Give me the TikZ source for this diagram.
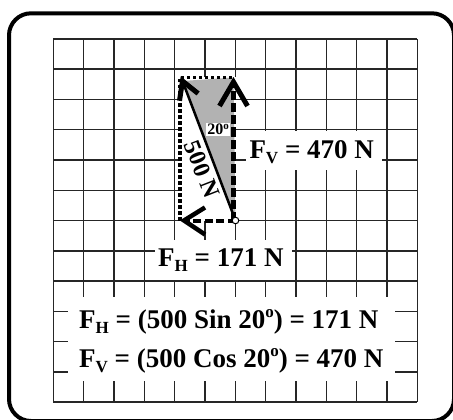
\documentclass[tikz,border=0pt]{standalone}
\usepackage{fontspec}
\setmainfont{Liberation Serif}
\newcommand{\subs}[1]{\raisebox{-5pt}{\fontsize{17}{17}\selectfont #1}}
\newcommand{\supo}{\raisebox{10.5pt}{\fontsize{17}{17}\selectfont o}}
\begin{document}
\begin{tikzpicture}[x=1pt,y=-1pt,
  gridline/.style={line width=1.5pt,black!85},
  lbl/.style={inner sep=0pt,anchor=base west,font=\fontsize{27}{30}\selectfont\bfseries},
  dotline/.style={line width=3.2pt,dash pattern=on 3.2pt off 2.8pt},
  dashline/.style={line width=4.5pt,dash pattern=on 9pt off 3pt},
  chev/.style={line width=5pt,miter limit=10},
  frame/.style={line width=4pt,rounded corners=22pt}]
\useasboundingbox (0,0) rectangle (453,420);
% outer frame
\draw[frame] (9,13.3) rectangle (454,421);
% grid
\foreach \i in {0,...,12} {\draw[gridline] ({53.3+30.33*\i},39) -- ({53.3+30.33*\i},402);}
\foreach \j in {0,...,12} {\draw[gridline] (53.3,{39+30.25*\j}) -- (417.3,{39+30.25*\j});}
% white masks behind labels
\fill[white] (246,131.5) rectangle (381.7,169.5);
\fill[white] (155,240) rectangle (291.7,279.8);
\fill[white] (68.3,297) rectangle (395,381);
% key points
\coordinate (O) at (235.5,220.5);
\coordinate (Vb) at (233.5,220.5);
\coordinate (V) at (233.5,82);
\coordinate (H) at (184,220.5);
\coordinate (R) at (182.5,81);
\coordinate (TL) at (180,77.5);
\coordinate (TR) at (233.5,77.5);
\coordinate (BL) at (180,220.5);
% vector rectangle
\fill[white] (TL) rectangle (O);
\fill[black!30] (R) -- (TR) -- (O) -- cycle;
\node[fill=white,inner sep=1.5pt,font=\fontsize{16}{16}\selectfont\bfseries] (ang) at (218,129.5) {20\raisebox{5.5pt}{\fontsize{11}{11}\selectfont o}};
\draw[dotline] (BL) -- (TL) -- (TR);
\draw[line width=2.5pt] (O) -- (R);
\draw[dashline] (Vb) -- (V);
\draw[line width=4pt,dash pattern=on 8pt off 3.5pt] (O) -- (H);
% chevron arrowheads
\draw[chev] (V) ++(-14,24) -- (V) -- ++(14,24);
\draw[chev,line width=4.5pt] (H) ++(21,-13) -- (H) -- ++(21,14);
\draw[chev,line width=5pt] (R) ++(-3,19.8) -- (R) -- ++(15.6,12.5);
\draw[line width=1pt,fill=white] (O) circle (3.3pt);
\node[inner sep=0pt,rotate=-68.7,font=\fontsize{24}{24}\selectfont\bfseries] (res) at (202,169.5) {500 N};
% labels
\node[lbl] (fv) at (249.3,158.3) {F\subs{V} = 470 N};
\node[lbl] (fh) at (158,266) {F\subs{H} = 171 N};
\node[lbl] (eq1) at (79,328.3) {F\subs{H} = (500 Sin 20\supo) = 171 N};
\node[lbl] (eq2) at (79,367) {F\subs{V} = (500 Cos 20\supo) = 470 N};
\end{tikzpicture}
\end{document}
